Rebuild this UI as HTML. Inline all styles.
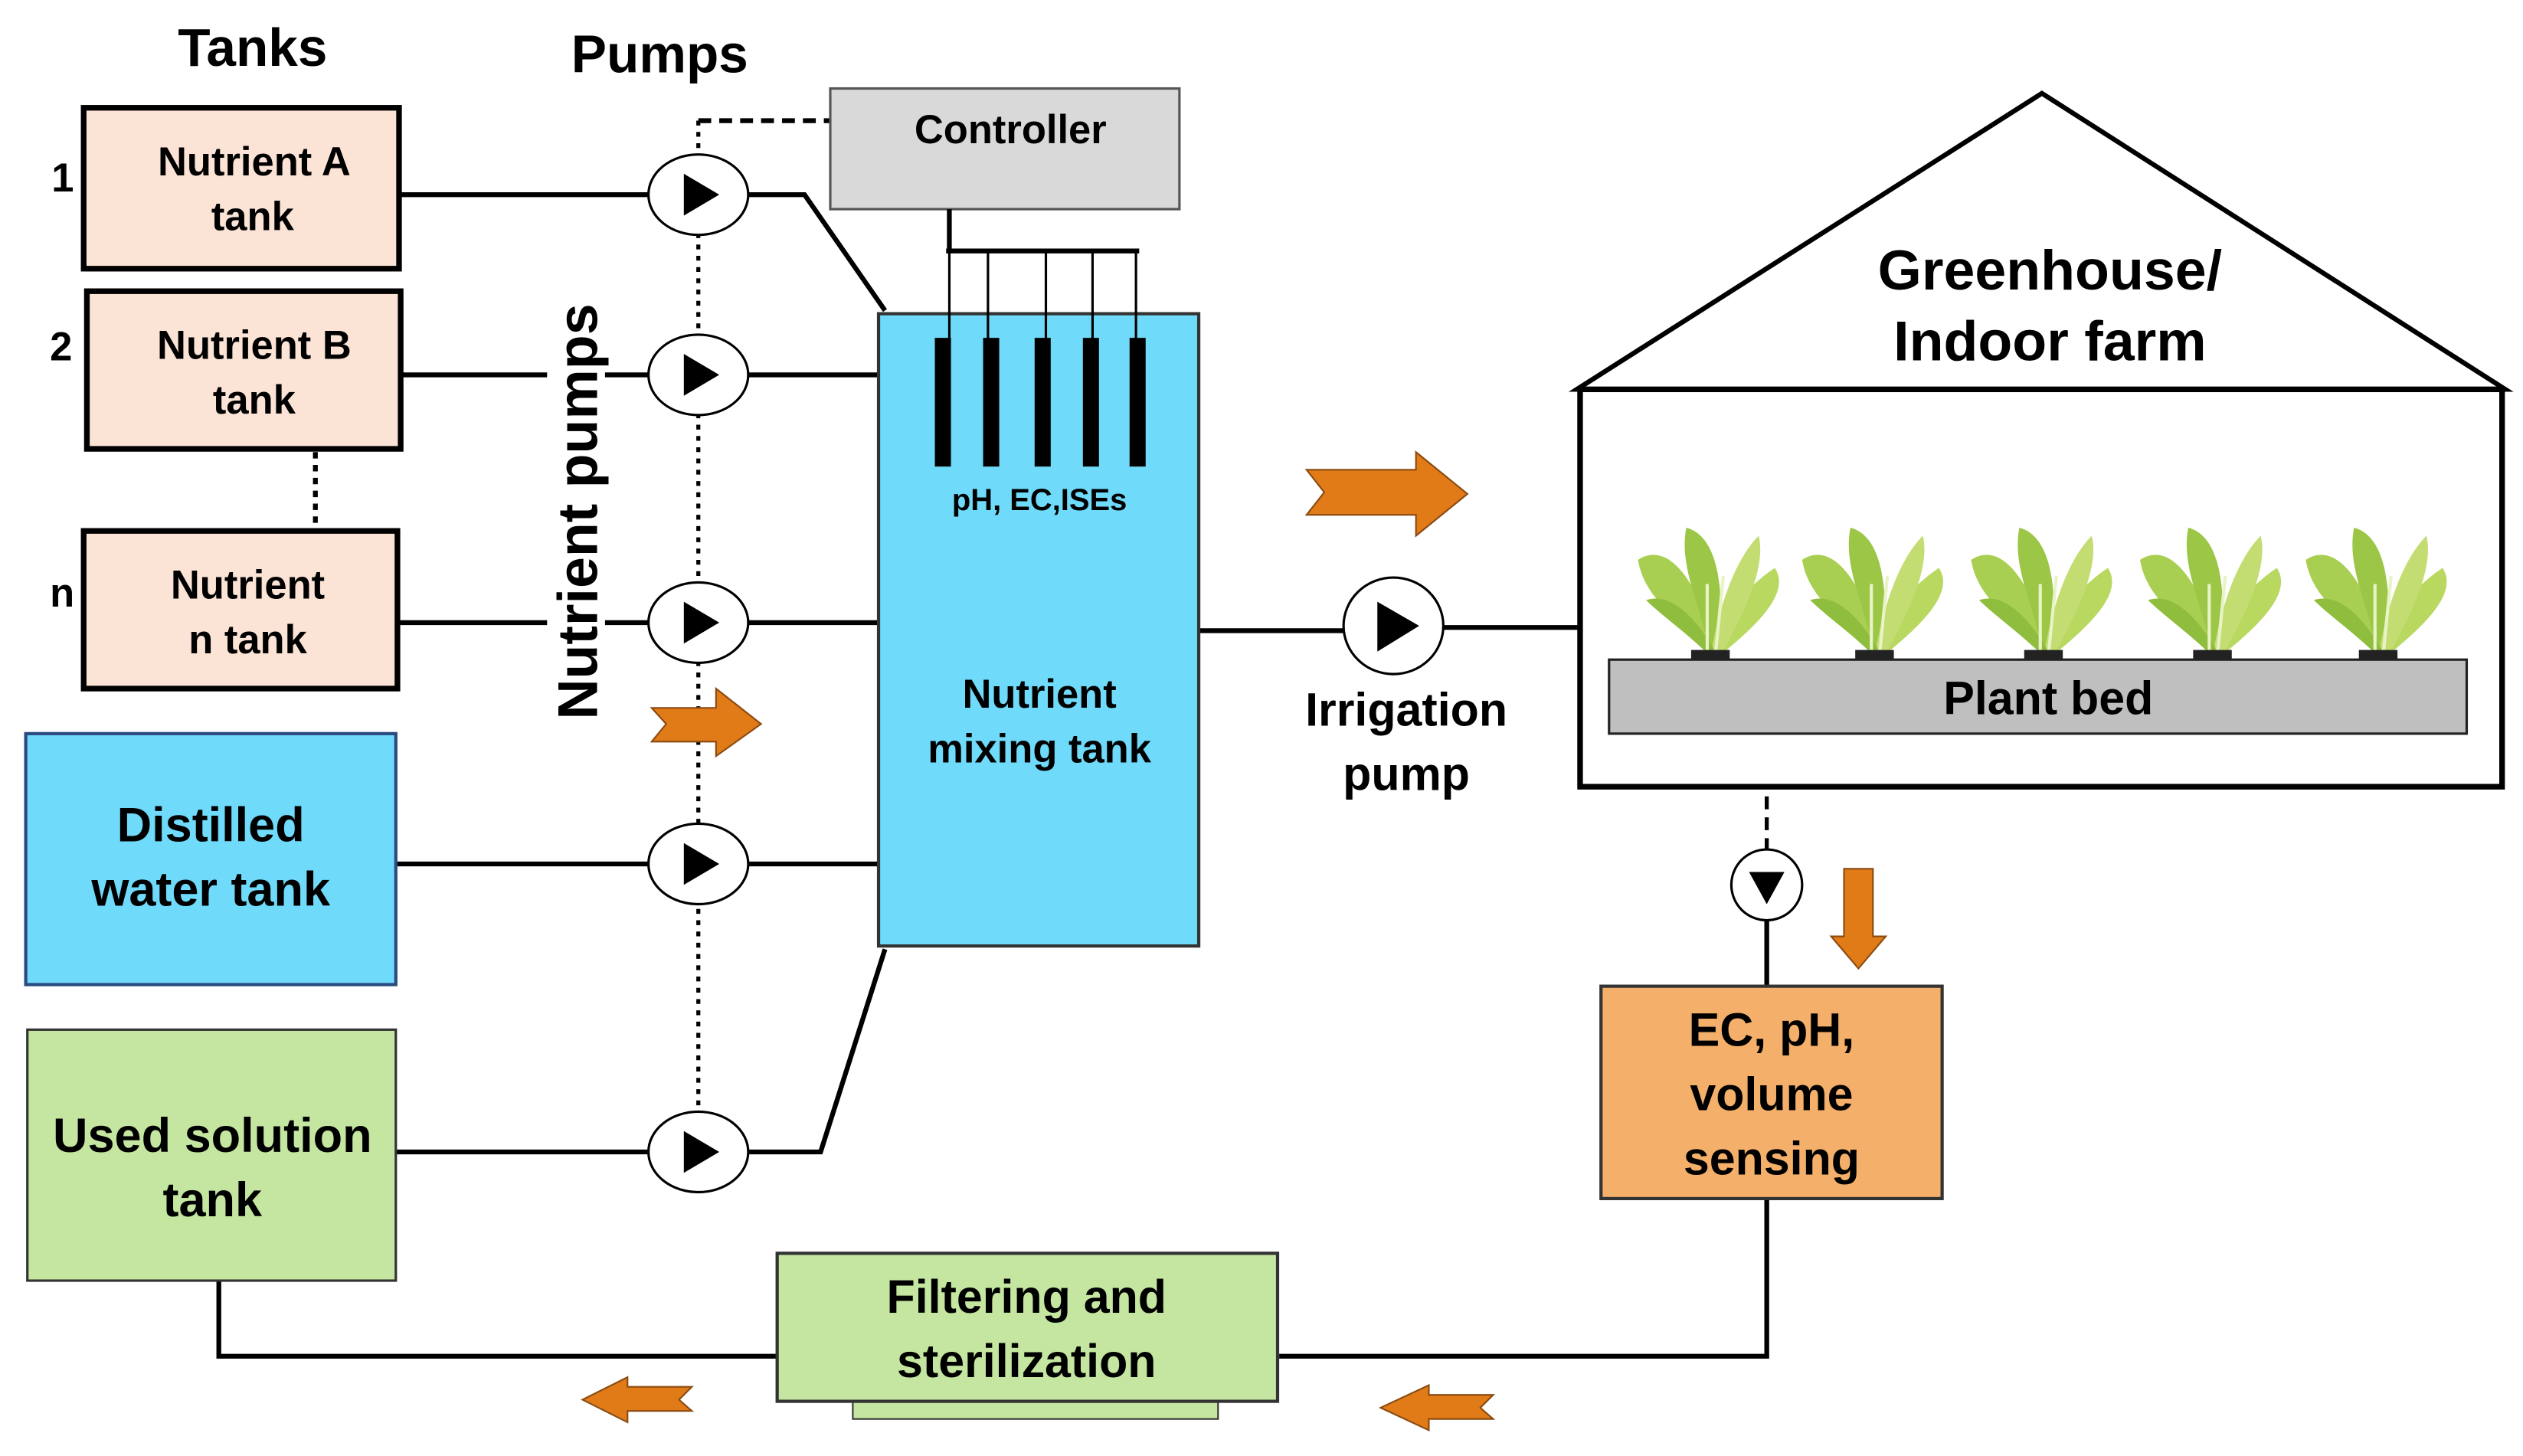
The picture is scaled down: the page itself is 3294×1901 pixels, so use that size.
<!DOCTYPE html>
<html><head><meta charset="utf-8"><style>html,body{margin:0;padding:0;background:#fff}svg{display:block}</style></head><body>
<svg width="3294" height="1901" viewBox="0 0 1568 905" preserveAspectRatio="none" xmlns="http://www.w3.org/2000/svg" font-family="Liberation Sans, sans-serif" font-weight="bold">
<defs>
<g id="plant">
<path d="M0,0 C-10,-20 -40,-30 -45,-60 C-30,-70 -15,-55 -5,-30 Z" fill="#a9cf52"/>
<path d="M0,0 C5,-25 25,-45 40,-55 C50,-40 30,-20 5,0 Z" fill="#b8d860"/>
<path d="M0,0 C-5,-30 -20,-55 -15,-80 C5,-75 10,-40 4,0 Z" fill="#9cc646"/>
<path d="M0,0 C5,-30 15,-60 30,-75 C35,-55 20,-25 6,0 Z" fill="#c3dd72"/>
<path d="M0,0 C-15,-15 -30,-25 -40,-35 C-25,-40 -10,-25 2,-5 Z" fill="#8fbd3d"/>
<path d="M-2,0 L-2,-45 M3,0 L8,-50" stroke="#e8f3c6" stroke-width="2"/>
<rect x="-12" y="-4" width="24" height="6" fill="#222"/>
</g>
<g id="pump"><ellipse cx="0" cy="0" rx="31" ry="25" fill="#fff" stroke="#000" stroke-width="1.5"/><polygon points="-9,-13 13,0 -9,13" fill="#000"/></g>
</defs>
<text x="157" y="41" font-size="33" text-anchor="middle">Tanks</text>
<text x="410" y="45" font-size="33" text-anchor="middle">Pumps</text>
<!-- lines -->
<g stroke="#000" stroke-width="3" fill="none">
<path d="M248,121 H403 M465,121 H500 L550,193"/>
<path d="M249,233 H403 M465,233 H546"/>
<path d="M247,387 H403 M465,387 H546"/>
<path d="M246,537 H403 M465,537 H546"/>
<path d="M246,716 H403 M465,716 H510 L550,590"/>
<path d="M745,392 H835 M897,390 H982"/>
<path d="M1098,572 V613 M1098,745 V843 H795 M483,843 H136 V796"/>
</g>
<path d="M434,75 V700" stroke="#000" stroke-width="2.5" stroke-dasharray="3,4"/>
<path d="M434,75 H516" stroke="#000" stroke-width="3" stroke-dasharray="8,5"/>
<path d="M196,281 V328" stroke="#000" stroke-width="3" stroke-dasharray="4,4"/>
<path d="M1098,456 V535" stroke="#000" stroke-width="2.5" stroke-dasharray="8,5"/>
<!-- tanks -->
<rect x="52" y="67" width="196" height="100" fill="#fbe3d6" stroke="#000" stroke-width="3.5"/>
<rect x="54" y="181" width="195" height="98" fill="#fbe3d6" stroke="#000" stroke-width="3.5"/>
<rect x="52" y="330" width="195" height="98" fill="#fbe3d6" stroke="#000" stroke-width="3.5"/>
<rect x="16" y="456" width="230" height="156" fill="#6fdaf9" stroke="#2a4a80" stroke-width="2"/>
<rect x="17" y="640" width="229" height="156" fill="#c5e6a0" stroke="#333" stroke-width="1.5"/>
<g font-size="25" text-anchor="middle">
<text x="158" y="109">Nutrient  A</text><text x="157" y="143">tank</text>
<text x="158" y="223">Nutrient  B</text><text x="158" y="257">tank</text>
<text x="154" y="372">Nutrient</text><text x="154" y="406">n tank</text>
</g>
<g font-size="25"><text x="32" y="119">1</text><text x="31" y="224">2</text><text x="31" y="377">n</text></g>
<g font-size="30" text-anchor="middle">
<text x="131" y="523">Distilled</text><text x="131" y="563">water tank</text>
<text x="132" y="716">Used solution</text><text x="132" y="756">tank</text>
</g>
<!-- nutrient pumps label -->
<rect x="340" y="185" width="36" height="268" fill="#fff"/>
<text transform="translate(371,318) rotate(-90)" font-size="35" text-anchor="middle">Nutrient pumps</text>
<!-- pumps -->
<use href="#pump" x="434" y="121"/><use href="#pump" x="434" y="233"/><use href="#pump" x="434" y="387"/><use href="#pump" x="434" y="537"/><use href="#pump" x="434" y="716"/>
<!-- controller -->
<rect x="516" y="55" width="217" height="75" fill="#d9d9d9" stroke="#555" stroke-width="1.5"/>
<text x="628" y="89" font-size="25" text-anchor="middle">Controller</text>
<!-- mixing tank -->
<rect x="546" y="195" width="199" height="393" fill="#6fdaf9" stroke="#333" stroke-width="2"/>
<path d="M590,130 V156 M588,156 H708" stroke="#000" stroke-width="3"/>
<path d="M590,156 V212 M614,156 V212 M650,156 V212 M679,156 V212 M706,156 V212" stroke="#000" stroke-width="1.5"/>
<g fill="#000"><rect x="581" y="210" width="10" height="80"/><rect x="611" y="210" width="10" height="80"/><rect x="643" y="210" width="10" height="80"/><rect x="673" y="210" width="10" height="80"/><rect x="702" y="210" width="10" height="80"/></g>
<text x="646" y="317" font-size="19" text-anchor="middle">pH, EC,ISEs</text>
<text x="646" y="440" font-size="25" text-anchor="middle">Nutrient</text>
<text x="646" y="474" font-size="25" text-anchor="middle">mixing  tank</text>
<!-- orange arrows -->
<g fill="#e07b18" stroke="#8a4a10" stroke-width="1">
<polygon points="405,440 445,440 445,428 473,450 445,470 445,461 405,461 414,450"/>
<polygon points="812,292 880,292 880,281 912,307 880,333 880,320 812,320 823,306"/>
<polygon points="1146,540 1164,540 1164,582 1172,582 1155,602 1138,582 1146,582"/>
<polygon points="430,862 390,862 390,856 362,870 390,884 390,877 430,877 422,870"/>
<polygon points="928,867 888,867 888,861 858,875 888,889 888,882 928,882 920,875"/>
</g>
<!-- irrigation pump -->
<ellipse cx="866" cy="389" rx="31" ry="30" fill="#fff" stroke="#000" stroke-width="1.5"/>
<polygon points="856,374 882,389 856,405" fill="#000"/>
<text x="874" y="451" font-size="29" text-anchor="middle">Irrigation</text>
<text x="874" y="491" font-size="29" text-anchor="middle">pump</text>
<!-- greenhouse -->
<polygon points="980,242 1269,58 1557,242" fill="#fff" stroke="#000" stroke-width="3"/>
<rect x="982" y="242" width="573" height="247" fill="#fff" stroke="#000" stroke-width="3.5"/>
<text x="1274" y="180" font-size="35" text-anchor="middle">Greenhouse/</text>
<text x="1274" y="224" font-size="35" text-anchor="middle">Indoor farm</text>
<use href="#plant" x="1063" y="408"/><use href="#plant" x="1165" y="408"/><use href="#plant" x="1270" y="408"/><use href="#plant" x="1375" y="408"/><use href="#plant" x="1478" y="408"/>
<rect x="1000" y="410" width="533" height="46" fill="#bfbfbf" stroke="#222" stroke-width="1.5"/>
<text x="1273" y="444" font-size="29" text-anchor="middle">Plant bed</text>
<!-- drain pump -->
<circle cx="1098" cy="550" r="22" fill="#fff" stroke="#000" stroke-width="1.5"/>
<polygon points="1087,542 1109,542 1098,562" fill="#000"/>
<rect x="995" y="613" width="212" height="132" fill="#f4b06a" stroke="#333" stroke-width="2"/>
<g font-size="29" text-anchor="middle"><text x="1101" y="650">EC, pH,</text><text x="1101" y="690">volume</text><text x="1101" y="730">sensing</text></g>
<!-- filter -->
<rect x="530" y="868" width="227" height="14" fill="#c5e6a0" stroke="#333" stroke-width="1"/>
<rect x="483" y="779" width="311" height="92" fill="#c5e6a0" stroke="#333" stroke-width="2"/>
<g font-size="29" text-anchor="middle"><text x="638" y="816">Filtering and</text><text x="638" y="856">sterilization</text></g>
</svg>
</body></html>
